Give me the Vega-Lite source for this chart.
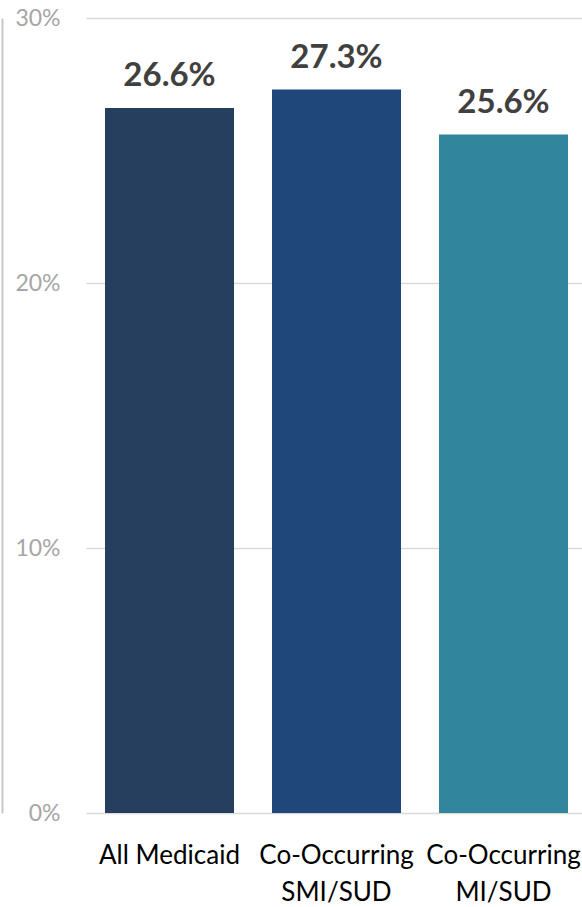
{
  "$schema": "https://vega.github.io/schema/vega-lite/v6.json",
  "width": 496,
  "height": 795,
  "autosize": {"type": "none"},
  "padding": {"left": 86, "top": 18, "right": 0, "bottom": 94},
  "background": "white",
  "config": {"view": {"stroke": null}, "font": "Lato"},
  "data": {
    "values": [
      {"group": "All Medicaid", "rate": 0.266},
      {"group": "Co-Occurring|SMI/SUD", "rate": 0.273},
      {"group": "Co-Occurring|MI/SUD", "rate": 0.256}
    ]
  },
  "encoding": {
    "x": {
      "field": "group",
      "type": "nominal",
      "sort": null,
      "scale": {"paddingInner": 0.2275, "paddingOuter": 0.0988, "align": 0.576},
      "axis": {
        "title": null,
        "domain": false,
        "ticks": false,
        "labelAngle": 0,
        "labelFontSize": 26,
        "labelColor": "#000000",
        "labelPadding": 29,
        "labelLineHeight": 37,
        "labelLimit": 0,
        "labelExpr": "split(datum.label, '|')"
      }
    },
    "y": {
      "field": "rate",
      "type": "quantitative",
      "scale": {"domain": [0, 0.3], "nice": false},
      "axis": {
        "title": null,
        "values": [0, 0.1, 0.2, 0.3],
        "format": ".0%",
        "grid": true,
        "gridColor": "#D9D9D9",
        "gridWidth": 1.5,
        "ticks": false,
        "domain": true,
        "domainColor": "#C8C8C8",
        "domainWidth": 2,
        "offset": 84,
        "labelPadding": -58,
        "labelFontSize": 23,
        "labelColor": "#A6A6A6"
      }
    }
  },
  "layer": [
    {
      "mark": {"type": "bar"},
      "encoding": {
        "color": {
          "field": "group",
          "type": "nominal",
          "legend": null,
          "scale": {
            "domain": ["All Medicaid", "Co-Occurring|SMI/SUD", "Co-Occurring|MI/SUD"],
            "range": ["#263F5F", "#1F477A", "#31859C"]
          }
        }
      }
    },
    {
      "mark": {
        "type": "text",
        "dy": -22,
        "baseline": "alphabetic",
        "fontSize": 33,
        "fontWeight": "bold",
        "color": "#404040"
      },
      "encoding": {
        "text": {"field": "rate", "type": "quantitative", "format": ".1%"}
      }
    }
  ]
}
